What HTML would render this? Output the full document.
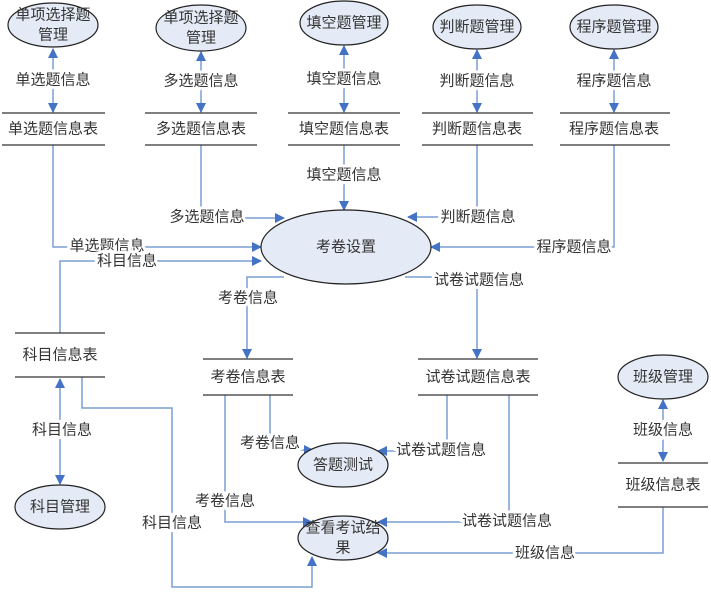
<!DOCTYPE html>
<html><head><meta charset="utf-8"><style>
html,body{margin:0;padding:0;background:#fff;}
svg{display:block;}
text{font-family:"Liberation Sans","Noto Sans CJK SC",sans-serif;font-size:15px;fill:#333;text-anchor:middle;dominant-baseline:central;}
.l{paint-order:stroke;stroke:#fff;stroke-width:6px;}
</style></head><body>
<svg width="711" height="600" viewBox="0 0 711 600" xmlns="http://www.w3.org/2000/svg">
<defs>
<marker id="a" markerWidth="10" markerHeight="10" refX="9" refY="5" orient="auto" markerUnits="userSpaceOnUse">
<path d="M0,0 L10,5 L0,10 z" fill="#4472c4"/></marker>
<marker id="s" markerWidth="10" markerHeight="10" refX="1" refY="5" orient="auto" markerUnits="userSpaceOnUse">
<path d="M10,0 L0,5 L10,10 z" fill="#4472c4"/></marker>
</defs>
<g fill="none" stroke="#7a9fd4" stroke-width="1.5">
<line x1="53" y1="49" x2="53" y2="112" marker-start="url(#s)" marker-end="url(#a)"/>
<line x1="201" y1="52" x2="201" y2="112" marker-start="url(#s)" marker-end="url(#a)"/>
<line x1="344" y1="46" x2="344" y2="112" marker-start="url(#s)" marker-end="url(#a)"/>
<line x1="477" y1="50" x2="477" y2="112" marker-start="url(#s)" marker-end="url(#a)"/>
<line x1="614" y1="50" x2="614" y2="112" marker-start="url(#s)" marker-end="url(#a)"/>
<polyline points="53,145 53,247 261,247" marker-end="url(#a)"/>
<polyline points="60,333 60,261 261,261" marker-end="url(#a)"/>
<polyline points="201,145 201,218 284,218" marker-end="url(#a)"/>
<line x1="344" y1="145" x2="344" y2="210" marker-end="url(#a)"/>
<polyline points="477,145 477,217 408,217" marker-end="url(#a)"/>
<polyline points="614,145 614,247 431,247" marker-end="url(#a)"/>
<polyline points="284,277 247,277 247,358" marker-end="url(#a)"/>
<polyline points="405,277 477,277 477,358" marker-end="url(#a)"/>
<polyline points="270,395 270,450 313,450" marker-end="url(#a)"/>
<polyline points="447,395 447,451 378,451" marker-end="url(#a)"/>
<polyline points="225,395 225,522 312,522" marker-end="url(#a)"/>
<polyline points="509,395 509,522 378,522" marker-end="url(#a)"/>
<polyline points="663,507 663,553 378,553" marker-end="url(#a)"/>
<polyline points="82,377 82,408 172,408 172,587 312,587 312,557" marker-end="url(#a)"/>
<line x1="60" y1="379" x2="60" y2="484" marker-start="url(#s)" marker-end="url(#a)"/>
<line x1="663" y1="400" x2="663" y2="461" marker-start="url(#s)" marker-end="url(#a)"/>
</g>
<g stroke="#333" stroke-width="1.3">
<line x1="2" y1="113" x2="105" y2="113"/><line x1="2" y1="145" x2="105" y2="145"/>
<line x1="145" y1="113" x2="257" y2="113"/><line x1="145" y1="145" x2="257" y2="145"/>
<line x1="288" y1="113" x2="400" y2="113"/><line x1="288" y1="145" x2="400" y2="145"/>
<line x1="422" y1="113" x2="533" y2="113"/><line x1="422" y1="145" x2="533" y2="145"/>
<line x1="560" y1="113" x2="670" y2="113"/><line x1="560" y1="145" x2="670" y2="145"/>
<line x1="15" y1="333" x2="105" y2="333"/><line x1="15" y1="377" x2="105" y2="377"/>
<line x1="203" y1="359" x2="293" y2="359"/><line x1="203" y1="395" x2="293" y2="395"/>
<line x1="418" y1="359" x2="538" y2="359"/><line x1="418" y1="395" x2="538" y2="395"/>
<line x1="618" y1="463" x2="708" y2="463"/><line x1="618" y1="507" x2="708" y2="507"/>
</g>
<g fill="#e5ebf6" stroke="#222" stroke-width="1.2">
<ellipse cx="53" cy="25" rx="45" ry="22"/>
<ellipse cx="201" cy="28" rx="45" ry="23"/>
<ellipse cx="344" cy="23" rx="44" ry="22"/>
<ellipse cx="477" cy="27" rx="44" ry="22"/>
<ellipse cx="614" cy="27" rx="44" ry="22"/>
<ellipse cx="346" cy="247" rx="85" ry="37"/>
<ellipse cx="343" cy="465" rx="45" ry="22"/>
<ellipse cx="343" cy="538" rx="45" ry="22"/>
<ellipse cx="60" cy="507" rx="45" ry="22"/>
<ellipse cx="663" cy="377" rx="45" ry="22"/>
</g>
<text x="53" y="15">单项选择题</text><text x="53" y="35">管理</text>
<text x="201" y="18">单项选择题</text><text x="201" y="38">管理</text>
<text x="344" y="23">填空题管理</text>
<text x="477" y="27">判断题管理</text>
<text x="614" y="27">程序题管理</text>
<text x="346" y="247">考卷设置</text>
<text x="343" y="465">答题测试</text>
<text x="343" y="528">查看考试结</text><text x="343" y="548">果</text>
<text x="60" y="507">科目管理</text>
<text x="663" y="377">班级管理</text>
<text x="53" y="129">单选题信息表</text>
<text x="201" y="129">多选题信息表</text>
<text x="344" y="129">填空题信息表</text>
<text x="477" y="129">判断题信息表</text>
<text x="614" y="129">程序题信息表</text>
<text x="60" y="355">科目信息表</text>
<text x="248" y="377">考卷信息表</text>
<text x="478" y="377">试卷试题信息表</text>
<text x="663" y="485">班级信息表</text>
<text class="l" x="53" y="80">单选题信息</text>
<text class="l" x="201" y="81">多选题信息</text>
<text class="l" x="344" y="79">填空题信息</text>
<text class="l" x="477" y="81">判断题信息</text>
<text class="l" x="614" y="81">程序题信息</text>
<text class="l" x="344" y="175">填空题信息</text>
<text class="l" x="207" y="217">多选题信息</text>
<text class="l" x="478" y="217">判断题信息</text>
<text class="l" x="107" y="246">单选题信息</text>
<text class="l" x="127" y="261">科目信息</text>
<text class="l" x="574" y="247">程序题信息</text>
<text class="l" x="248" y="298">考卷信息</text>
<text class="l" x="479" y="280">试卷试题信息</text>
<text class="l" x="62" y="430">科目信息</text>
<text class="l" x="663" y="430">班级信息</text>
<text class="l" x="270" y="443">考卷信息</text>
<text class="l" x="441" y="450">试卷试题信息</text>
<text class="l" x="225" y="501">考卷信息</text>
<text class="l" x="172" y="523">科目信息</text>
<text class="l" x="507" y="521">试卷试题信息</text>
<text class="l" x="545" y="553">班级信息</text>
</svg>
</body></html>
